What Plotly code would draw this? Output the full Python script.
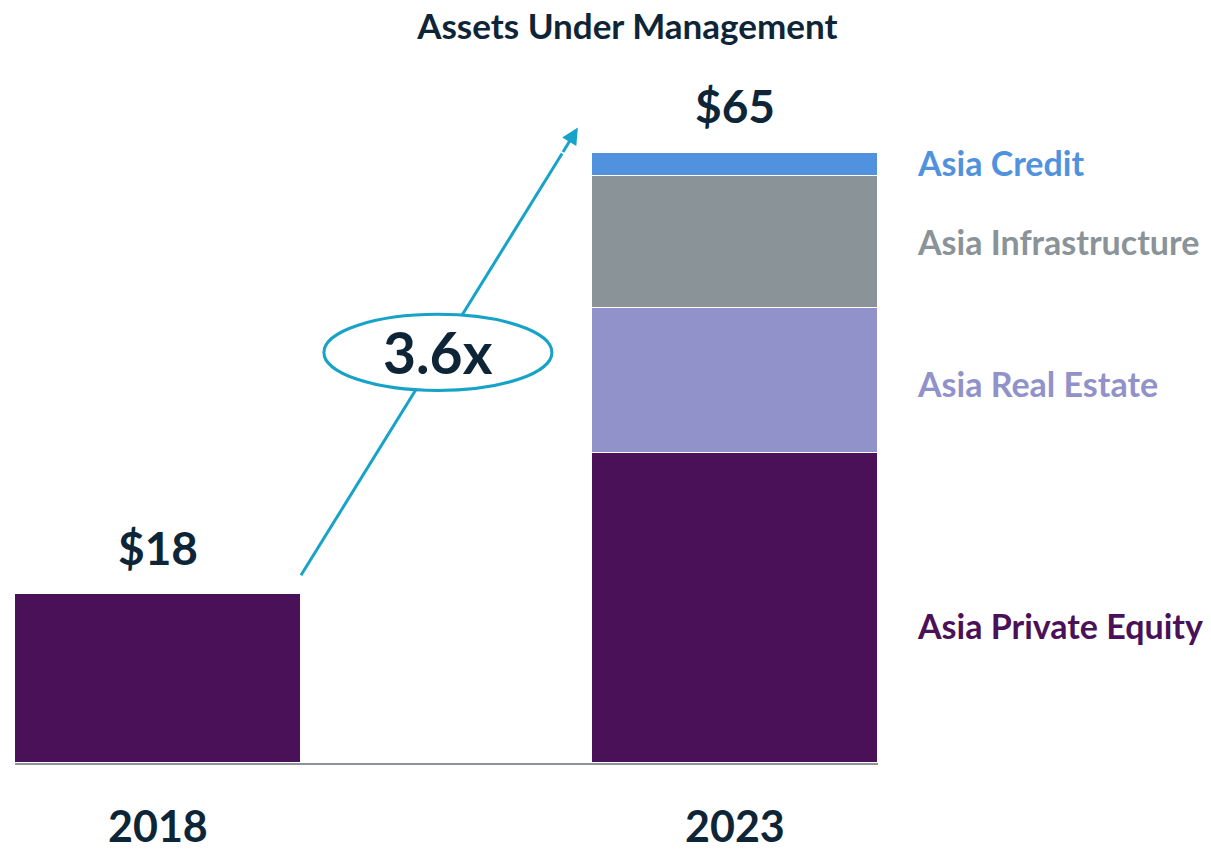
import plotly.graph_objects as go

years = ["2018", "2023"]
x_pos = [0, 1]
series_names = ["Asia Private Equity", "Asia Real Estate", "Asia Infrastructure", "Asia Credit"]
pe_values = [18, 33]
re_values = [None, 15.5]
infra_values = [None, 14]
credit_values = [None, 2.5]
totals = ["$18", "$65"]
total_values = [18, 65]
multiple_label = "3.6x"

colors = {
    "Asia Private Equity": "#4a1058",
    "Asia Real Estate": "#9192c9",
    "Asia Infrastructure": "#899398",
    "Asia Credit": "#5092de",
}
navy = "#0e2537"
teal = "#16a3c7"
FONT = "Lato"

fig = go.Figure()
for name, vals in zip(series_names, [pe_values, re_values, infra_values, credit_values]):
    fig.add_trace(go.Bar(
        x=x_pos, y=vals, name=name, width=0.496,
        marker=dict(color=colors[name], line=dict(color="white", width=1.5)),
        hoverinfo="skip",
    ))

annotations = []
# totals above bars
for xp, lab, tv in zip(x_pos, totals, total_values):
    annotations.append(dict(x=xp, y=tv, yshift=47, text=f"<b>{lab}</b>", showarrow=False,
                            font=dict(family=FONT, size=46, color=navy), xanchor="center", yanchor="middle"))
# year labels
for xp, yr in zip(x_pos, years):
    annotations.append(dict(x=xp, y=0, yshift=-62, text=f"<b>{yr}</b>", showarrow=False,
                            font=dict(family=FONT, size=43, color=navy), xanchor="center", yanchor="middle",
                            borderpad=0))
# segment labels on right
label_y = {"Asia Credit": 64.0, "Asia Infrastructure": 55.6, "Asia Real Estate": 40.4, "Asia Private Equity": 14.7}
for name in series_names:
    annotations.append(dict(x=1.043, xref="paper", y=label_y[name], yref="y", text=f"<b>{name}</b>",
                            showarrow=False, font=dict(family=FONT, size=34, color=colors[name]),
                            xanchor="left", yanchor="middle"))
# arrowhead
annotations.append(dict(x=0.7277, y=67.7, ax=0.7004, ay=64.94, axref="x", ayref="y", xref="x", yref="y",
                        text="", showarrow=True, arrowhead=2, arrowsize=1.1, arrowwidth=3, arrowcolor=teal, standoff=0))
# multiple label
annotations.append(dict(x=0.485, y=43.8, text=f"<b>{multiple_label}</b>", showarrow=False,
                        font=dict(family=FONT, size=57, color=navy), xanchor="center", yanchor="middle"))

shapes = [
    dict(type="line", xref="x", yref="y", x0=0.2477, y0=20.0, x1=0.7004, y1=64.94,
         line=dict(color=teal, width=3), layer="above"),
    dict(type="circle", xref="x", yref="y", x0=0.2875, x1=0.6827, y0=39.7, y1=47.8,
         line=dict(color=teal, width=3), fillcolor="white", layer="above"),
]

fig.update_layout(
    width=1211, height=851,
    margin=dict(l=15, r=333, t=106, b=88),
    plot_bgcolor="white", paper_bgcolor="white",
    barmode="stack", bargap=0, showlegend=False,
    title=dict(text="<b>Assets Under Management</b>", x=0.518, xanchor="center", y=0.968, yanchor="middle",
               font=dict(family=FONT, size=35, color=navy)),
    xaxis=dict(range=[-0.248, 1.248], showticklabels=False, showgrid=False, zeroline=False,
               showline=True, linecolor="#8a9399", linewidth=2, fixedrange=True),
    yaxis=dict(range=[0, 70], showticklabels=False, showgrid=False, zeroline=False, showline=False),
    annotations=annotations,
    shapes=shapes,
)

fig.write_html("out.html", config={"displayModeBar": False},
               post_script="document.body.style.margin='0';document.body.style.overflow='hidden';")
